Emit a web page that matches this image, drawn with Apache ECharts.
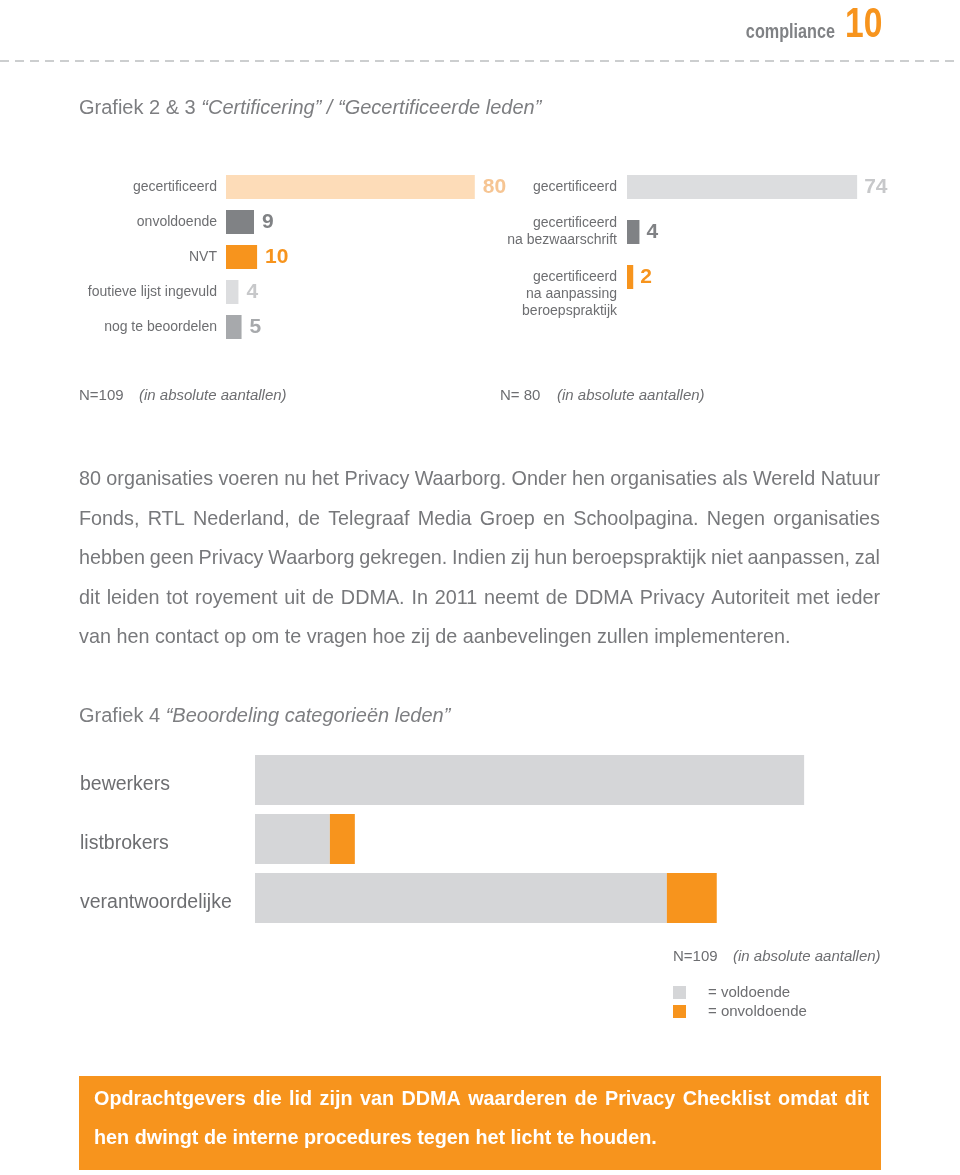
<!DOCTYPE html>
<html>
<head>
<meta charset="utf-8">
<script src="https://cdn.jsdelivr.net/npm/echarts@6/dist/echarts.min.js"></script>
<style>
html,body{margin:0;padding:0;background:#fff;}
#chart{width:960px;height:1175px;}
</style>
</head>
<body>
<div id="chart"></div>
<script>
// ---------- DATA ----------
const cats2 = ['gecertificeerd', 'onvoldoende', 'NVT', 'foutieve lijst ingevuld', 'nog te beoordelen'];
const vals2 = [80, 9, 10, 4, 5];

const cats3 = ['gecertificeerd', 'gecertificeerd\nna bezwaarschrift', 'gecertificeerd\nna aanpassing\nberoepspraktijk'];
const vals3 = [74, 4, 2];

const cats4 = ['bewerkers', 'listbrokers', 'verantwoordelijke'];
const voldoende4 = [44, 6, 33];
const onvoldoende4 = [0, 2, 4];
const seriesNames4 = ['voldoende', 'onvoldoende'];

const headerWord = 'compliance';
const headerNum = '10';
const title23 = ['Grafiek 2 & 3', '“Certificering” / “Gecertificeerde leden”'];
const title4 = ['Grafiek 4', '“Beoordeling categorieën leden”'];
const nNote2 = 'N=109', nNote3 = 'N= 80', nNote4 = 'N=109';
const nNoteItalic = '(in absolute aantallen)';

const paragraph = [
  '80 organisaties voeren nu het Privacy Waarborg. Onder hen organisaties als Wereld Natuur',
  'Fonds, RTL Nederland, de Telegraaf Media Groep en Schoolpagina. Negen organisaties',
  'hebben geen Privacy Waarborg gekregen. Indien zij hun beroepspraktijk niet aanpassen, zal',
  'dit leiden tot royement uit de DDMA. In 2011 neemt de DDMA Privacy Autoriteit met ieder',
  'van hen contact op om te vragen hoe zij de aanbevelingen zullen implementeren.'
];
const boxLines = [
  'Opdrachtgevers die lid zijn van DDMA waarderen de Privacy Checklist omdat dit',
  'hen dwingt de interne procedures tegen het licht te houden.'
];

// ---------- STYLES ----------
const ORANGE = '#f7941d';
const colors2 = ['#fddcb8', '#808285', ORANGE, '#dcdddf', '#a7a9ac'];
const labelColors2 = ['#f6c593', '#808285', ORANGE, '#c7c8ca', '#a7a9ac'];
const colors3 = ['#dcdddf', '#808285', ORANGE];
const labelColors3 = ['#c7c8ca', '#808285', ORANGE];
const colors4 = ['#d5d6d8', ORANGE];
const TXT = '#77787b';
const LBL = '#6d6e71';
const SANS = '"Liberation Sans", Arial, Helvetica, sans-serif';

const measureCtx = document.createElement('canvas').getContext('2d');
function textWidth(t, font) { measureCtx.font = font; return measureCtx.measureText(t).width; }

function txt(x, y, text, opts, extra) {
  opts = opts || {};
  const st = Object.assign({
    text: text, fill: TXT, fontFamily: SANS, fontSize: 18,
    align: 'left', textAlign: 'left', verticalAlign: 'middle', textVerticalAlign: 'middle'
  }, opts);
  return Object.assign({ type: 'text', x: x, y: y, z: 10, silent: true, style: st }, extra || {});
}

function justified(line, y, x0, x1, size, weight, color, justify) {
  const font = (weight || 'normal') + ' ' + size + 'px ' + SANS;
  if (!justify) return [txt(x0, y, line, { fontSize: size, fontWeight: weight || 'normal', fill: color })];
  const words = line.split(' ');
  const widths = words.map(w => textWidth(w, font));
  const total = widths.reduce((a, b) => a + b, 0);
  const gap = (x1 - x0 - total) / (words.length - 1);
  const els = [];
  let x = x0;
  words.forEach((w, i) => {
    els.push(txt(x, y, w, { fontSize: size, fontWeight: weight || 'normal', fill: color }));
    x += widths[i] + gap;
  });
  return els;
}

// ---------- GRAPHIC (texts, rules, box) ----------
const graphics = [];
graphics.push({ type: 'line', z: 1, silent: true, shape: { x1: 0, y1: 61, x2: 960, y2: 61 },
  style: { stroke: '#bcbec0', lineWidth: 1.5, lineDash: [9, 6] } });
graphics.push(txt(835, 32, headerWord, { align: 'right', textAlign: 'right', fontWeight: 'bold', fontSize: 20, fill: '#808285' }, { scaleX: 0.81 }));
graphics.push(txt(845, 25.5, headerNum, { fontWeight: 'bold', fontSize: 42, fill: ORANGE }, { scaleX: 0.8 }));

function titleRich(x, y, parts) {
  return txt(x, y, '{n|' + parts[0] + '} {i|' + parts[1] + '}', {
    fontSize: 20, fill: '#7d7e81',
    rich: { n: { fontSize: 20, fill: '#7d7e81', color: '#7d7e81', fontFamily: SANS },
            i: { fontSize: 20, fill: '#7d7e81', color: '#7d7e81', fontStyle: 'italic', fontFamily: SANS } }
  });
}
graphics.push(titleRich(79, 108, title23));
graphics.push(titleRich(79, 716, title4));

const nStyle = { fontSize: 15, fill: LBL };
const nItal = { fontSize: 15, fill: LBL, fontStyle: 'italic' };
graphics.push(txt(79, 396, nNote2, nStyle));
graphics.push(txt(139, 396, nNoteItalic, nItal));
graphics.push(txt(500, 396, nNote3, nStyle));
graphics.push(txt(557, 396, nNoteItalic, nItal));
graphics.push(txt(673, 957, nNote4, nStyle));
graphics.push(txt(733, 957, nNoteItalic, nItal));

paragraph.forEach((line, i) => {
  justified(line, 480 + i * 39.5, 79, 880, 19.8, 'normal', TXT, i < paragraph.length - 1)
    .forEach(e => graphics.push(e));
});

graphics.push({ type: 'rect', z: 2, silent: true, shape: { x: 79, y: 1076, width: 802, height: 94 }, style: { fill: ORANGE } });
boxLines.forEach((line, i) => {
  justified(line, 1100 + i * 39, 94, 869, 19.8, 'bold', '#ffffff', i < boxLines.length - 1)
    .forEach(e => graphics.push(e));
});

// ---------- CHART ----------
const hiddenX = (idx, max) => ({ type: 'value', gridIndex: idx, min: 0, max: max, show: false });
const valueLabel = { show: true, position: 'right', distance: 8, fontFamily: SANS, fontWeight: 'bold', fontSize: 21 };

const option = {
  animation: false,
  backgroundColor: '#ffffff',
  textStyle: { fontFamily: SANS },
  grid: [
    { left: 226, top: 169.5, width: 311, height: 175 },
    { left: 627, top: 164.5, width: 311, height: 135 },
    { left: 255, top: 750.5, width: 624, height: 177 }
  ],
  xAxis: [hiddenX(0, 100), hiddenX(1, 100), hiddenX(2, 50)],
  yAxis: [
    { type: 'category', gridIndex: 0, inverse: true, data: cats2,
      axisLine: { show: false }, axisTick: { show: false },
      axisLabel: { interval: 0, margin: 9, fontSize: 14, color: LBL, fontFamily: SANS } },
    { type: 'category', gridIndex: 1, inverse: true, data: cats3,
      axisLine: { show: false }, axisTick: { show: false },
      axisLabel: { interval: 0, hideOverlap: false, margin: 10, fontSize: 14, color: LBL, fontFamily: SANS, lineHeight: 17, align: 'right',
        formatter: (v, i) => (i === 2 ? '\n\n' + v : v) } },
    { type: 'category', gridIndex: 2, inverse: true, data: cats4,
      axisLine: { show: false }, axisTick: { show: false },
      axisLabel: { interval: 0, margin: 175, align: 'left', fontSize: 19.5, color: LBL, fontFamily: SANS,
        formatter: v => '{a|' + v + '}',
        rich: { a: { fontSize: 19.5, color: LBL, fontFamily: SANS, padding: [10, 0, 0, 0] } } } }
  ],
  legend: {
    orient: 'vertical', left: 673, top: 985, padding: 0, itemWidth: 13, itemHeight: 13, itemGap: 4,
    icon: 'rect', selectedMode: false, data: seriesNames4,
    formatter: n => '= ' + n,
    textStyle: { fontSize: 15, lineHeight: 14, color: LBL, fontFamily: SANS, padding: [0, 0, 0, 17] }
  },
  series: [
    { type: 'bar', xAxisIndex: 0, yAxisIndex: 0, barWidth: 24, silent: true,
      data: vals2.map((v, i) => ({ value: v, itemStyle: { color: colors2[i] }, label: { color: labelColors2[i] } })),
      label: valueLabel },
    { type: 'bar', xAxisIndex: 1, yAxisIndex: 1, barWidth: 24, silent: true,
      data: vals3.map((v, i) => ({ value: v, itemStyle: { color: colors3[i] }, label: { color: labelColors3[i] } })),
      label: Object.assign({}, valueLabel, { distance: 7 }) },
    { name: seriesNames4[0], type: 'bar', stack: 'c4', xAxisIndex: 2, yAxisIndex: 2, barWidth: 50, silent: true,
      itemStyle: { color: colors4[0] }, data: voldoende4 },
    { name: seriesNames4[1], type: 'bar', stack: 'c4', xAxisIndex: 2, yAxisIndex: 2, barWidth: 50, silent: true,
      itemStyle: { color: colors4[1] }, data: onvoldoende4 }
  ],
  graphic: { elements: graphics }
};

const chart = echarts.init(document.getElementById('chart'), null, { renderer: 'canvas' });
chart.setOption(option);
</script>
</body>
</html>
